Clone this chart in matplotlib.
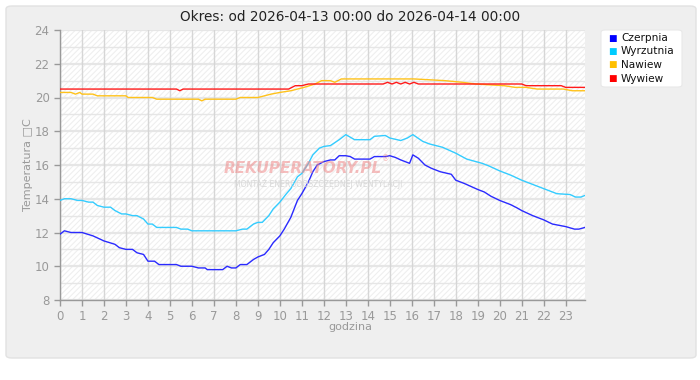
import matplotlib
matplotlib.use("Agg")
import matplotlib.pyplot as plt
from matplotlib.patches import FancyBboxPatch, Rectangle

# ---------------- data ----------------
title = "Okres: od 2026-04-13 00:00 do 2026-04-14 00:00"
series_names = ["Czerpnia", "Wyrzutnia", "Nawiew", "Wywiew"]
series_colors = ["#0000ff", "#00ccff", "#ffc000", "#ff0000"]

czerpnia_h = [0, 0.2, 0.5, 1.0, 1.5, 2.0, 2.5, 2.7, 3.0, 3.3, 3.5, 3.8, 4.0, 4.3, 4.5, 5.0, 5.3, 5.5, 6.0,
              6.3, 6.6, 6.7, 7.0, 7.4, 7.6, 7.8, 8.0, 8.2, 8.5, 8.8, 9.0, 9.3, 9.5, 9.7, 10.0, 10.2, 10.5,
              10.8, 11.0, 11.3, 11.5, 11.7, 12.0, 12.3, 12.5, 12.7, 13.0, 13.2, 13.4, 13.8, 14.1, 14.3, 14.8,
              15.0, 15.25, 15.5, 15.9, 16.05, 16.3, 16.6, 16.9, 17.3, 17.8, 18.0, 18.4, 19.0, 19.3, 19.6, 20.0,
              20.5, 20.8, 21.0, 21.5, 22.0, 22.4, 23.0, 23.4, 23.6, 23.88]
czerpnia_t = [11.9, 12.1, 12.0, 12.0, 11.8, 11.5, 11.3, 11.1, 11.0, 11.0, 10.8, 10.7, 10.3, 10.3, 10.1, 10.1, 10.1, 10.0, 10.0,
              9.9, 9.9, 9.8, 9.8, 9.8, 10.0, 9.9, 9.9, 10.1, 10.1, 10.4, 10.55, 10.7, 11.0, 11.4, 11.8, 12.2, 12.9,
              13.9, 14.3, 15.0, 15.6, 16.0, 16.2, 16.3, 16.3, 16.55, 16.55, 16.5, 16.35, 16.35, 16.35, 16.5, 16.5,
              16.55, 16.45, 16.3, 16.1, 16.6, 16.4, 16.0, 15.8, 15.6, 15.45, 15.1, 14.9, 14.55, 14.4, 14.15, 13.9,
              13.65, 13.45, 13.3, 13.0, 12.75, 12.5, 12.35, 12.2, 12.2, 12.3]

wyrzutnia_h = [0, 0.2, 0.5, 0.8, 1.0, 1.3, 1.5, 1.7, 2.0, 2.3, 2.5, 2.8, 3.0, 3.3, 3.5, 3.8, 4.0, 4.2, 4.4, 5.0,
               5.3, 5.5, 5.8, 6.0, 7.0, 8.0, 8.3, 8.5, 8.8, 9.0, 9.2, 9.5, 9.7, 10.0, 10.3, 10.5, 10.8, 11.0,
               11.3, 11.5, 11.8, 12.0, 12.3, 12.7, 13.0, 13.4, 14.1, 14.3, 14.8, 15.0, 15.5, 15.8, 16.05, 16.5,
               16.8, 17.4, 18.0, 18.5, 19.2, 19.5, 20.0, 20.5, 21.0, 21.5, 22.0, 22.6, 23.2, 23.45, 23.7, 23.88]
wyrzutnia_t = [13.9, 14.0, 14.0, 13.9, 13.9, 13.8, 13.8, 13.6, 13.5, 13.5, 13.3, 13.1, 13.1, 13.0, 13.0, 12.8, 12.5, 12.5, 12.3, 12.3,
               12.3, 12.2, 12.2, 12.1, 12.1, 12.1, 12.2, 12.2, 12.5, 12.6, 12.6, 13.0, 13.4, 13.8, 14.3, 14.6, 15.3, 15.5,
               16.1, 16.6, 17.0, 17.1, 17.15, 17.5, 17.8, 17.5, 17.5, 17.7, 17.75, 17.6, 17.45, 17.6, 17.8, 17.4,
               17.25, 17.05, 16.7, 16.35, 16.1, 15.95, 15.65, 15.4, 15.1, 14.85, 14.6, 14.3, 14.25, 14.1, 14.1, 14.2]

nawiew_h = [0, 0.5, 0.7, 0.9, 1.0, 1.5, 1.7, 3.0, 3.1, 4.2, 4.4, 6.3, 6.45, 6.6, 8.0, 8.2, 9.0, 9.3, 9.6, 10.0,
            10.5, 11.1, 11.6, 11.9, 12.3, 12.5, 12.8, 16.1, 17.5, 18.3, 18.9, 20.2, 20.7, 21.2, 21.7, 22.9, 23.3, 23.88]
nawiew_t = [20.3, 20.3, 20.2, 20.3, 20.2, 20.2, 20.1, 20.1, 20.0, 20.0, 19.9, 19.9, 19.8, 19.9, 19.9, 20.0, 20.0, 20.1, 20.2, 20.3,
            20.4, 20.6, 20.8, 21.0, 21.0, 20.9, 21.1, 21.1, 21.0, 20.9, 20.8, 20.7, 20.6, 20.6, 20.5, 20.5, 20.4, 20.4]

wywiew_h = [0, 5.3, 5.45, 5.6, 10.4, 10.7, 11.0, 11.3, 14.7, 14.9, 15.1, 15.3, 15.5, 15.7, 15.9, 16.1, 16.3,
            21.0, 21.2, 22.8, 23.0, 23.88]
wywiew_t = [20.5, 20.5, 20.4, 20.5, 20.5, 20.7, 20.7, 20.8, 20.8, 20.9, 20.8, 20.9, 20.8, 20.9, 20.8, 20.9, 20.8,
            20.8, 20.7, 20.7, 20.6, 20.6]

x_ticks = list(range(0, 24))
y_ticks = [8, 10, 12, 14, 16, 18, 20, 22, 24]
x_label = "godzina"
y_label = "Temperatura □C"

# ---------------- figure ----------------
plt.rcParams["font.family"] = ["DejaVu Sans"]
plt.rcParams["hatch.color"] = "#efefef"
plt.rcParams["hatch.linewidth"] = 0.8

W, H = 700.0, 380.0
fig = plt.figure(figsize=(7.0, 3.8), dpi=100)
fig.patch.set_facecolor("white")


def fx(px):
    return px / W


def fy(py):
    return 1 - py / H


panel = FancyBboxPatch((fx(6), fy(358)), 690 / W, 352 / H,
                       boxstyle="round,pad=0,rounding_size=0.008",
                       transform=fig.transFigure, facecolor="#efefef",
                       edgecolor="#e2e2e2", linewidth=1.0, zorder=-5)
fig.patches.append(panel)

ax = fig.add_axes([fx(60), fy(300), 525 / W, 270 / H])
ax.set_facecolor("white")
ax.add_patch(Rectangle((0, 0), 1, 1, transform=ax.transAxes, facecolor="none",
                       edgecolor="#efefef", hatch="//////", linewidth=0, zorder=0))

# grid
for yv in range(8, 25):
    ax.axhline(yv, color="#e6e6e6", lw=1.6 if yv % 2 == 0 else 1.0, zorder=1)
for xv in x_ticks:
    ax.axvline(xv, color="#d6d6d6", lw=1.0, zorder=1)

# watermark
fig.text(fx(224), fy(169), "REKUPERATORY.PL", fontsize=11, fontweight="bold",
         fontstyle="italic", color="#f08a8a", alpha=0.55, ha="left", va="center", zorder=2)
fig.text(fx(382), fy(159), "®", fontsize=5.5, color="#f08a8a", alpha=0.55, zorder=2,
         ha="left", va="center")
fig.text(fx(318), fy(184), "MONTAŻ ENERGOOSZCZĘDNEJ WENTYLACJI", fontsize=5.6,
         color="#d8d8d8", ha="center", va="center", zorder=2)

# series
data = [(czerpnia_h, czerpnia_t), (wyrzutnia_h, wyrzutnia_t), (nawiew_h, nawiew_t), (wywiew_h, wywiew_t)]
line_cols = ["#2a2aff", "#33ccff", "#ffc21a", "#ff1a1a"]
for (hx, ty), c in zip(data, line_cols):
    ax.plot(hx, ty, color=c, lw=1.0, zorder=3, solid_joinstyle="round")

ax.set_xlim(0, 23.88)
ax.set_ylim(8, 24)
ax.set_xticks(x_ticks)
ax.set_yticks(y_ticks)
ax.tick_params(axis="both", colors="#999999", labelcolor="#999999", labelsize=8.5,
               length=4, width=1, direction="out")
for s in ["top", "right"]:
    ax.spines[s].set_visible(False)
for s in ["left", "bottom"]:
    ax.spines[s].set_color("#999999")
    ax.spines[s].set_linewidth(1.0)

fig.text(fx(350), fy(17), title, ha="center", va="center", fontsize=9.8, color="#222222")
fig.text(fx(350), fy(327), x_label, ha="center", va="center", fontsize=8, color="#999999")
fig.text(fx(28), fy(165), y_label, ha="center", va="center", fontsize=8, color="#999999",
         rotation=90)

# legend
leg_box = FancyBboxPatch((fx(601), fy(87)), 81 / W, 57 / H,
                         boxstyle="round,pad=0,rounding_size=0.006",
                         transform=fig.transFigure, facecolor="white",
                         edgecolor="#e8e8e8", linewidth=0.8, zorder=-4)
fig.patches.append(leg_box)
for i, (name, col) in enumerate(zip(series_names, series_colors)):
    yy = fy(38 + i * 13.5)
    fig.text(fx(612), yy, "■", color=col, fontsize=6.5, ha="center", va="center")
    fig.text(fx(621), yy, name, color="#111111", fontsize=7.6, ha="left", va="center")

fig.savefig("out.png", dpi=100)
